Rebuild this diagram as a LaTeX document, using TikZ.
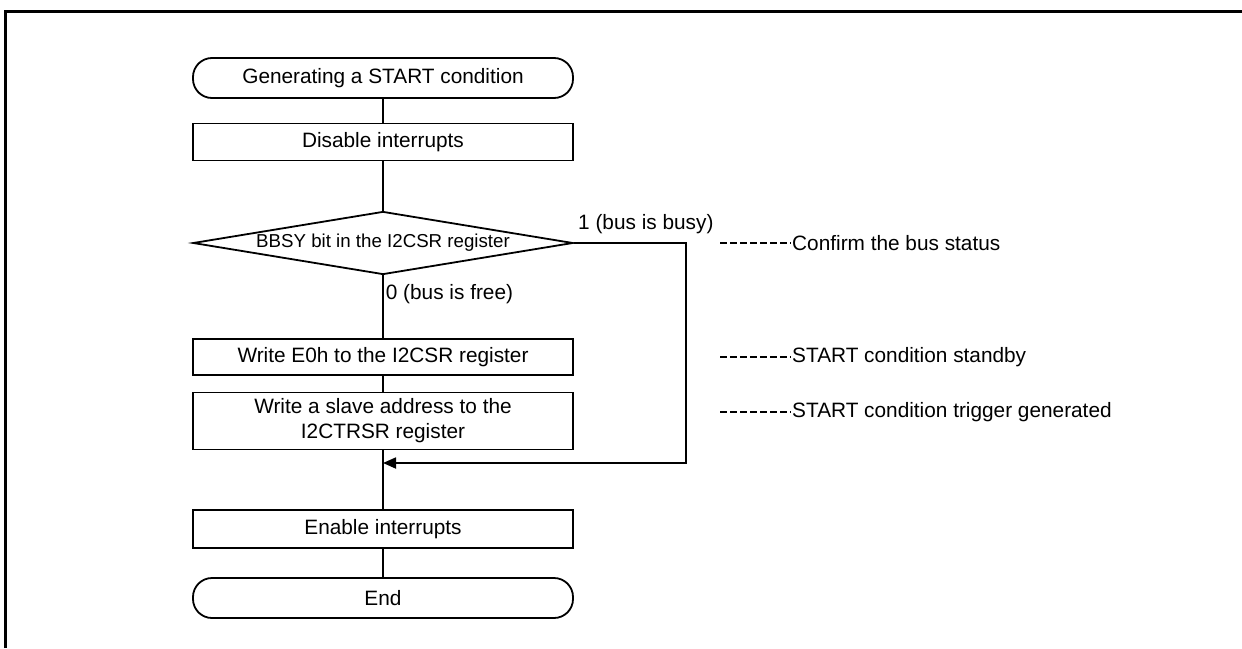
\documentclass[tikz,border=0pt]{standalone}
\usepackage{fontspec}
\setmainfont{Liberation Sans}
\usetikzlibrary{shapes.geometric,arrows.meta}
\begin{document}
\begin{tikzpicture}[x=1pt,y=-1pt,
  txt/.style={font=\fontsize{20.8}{25}\selectfont},
  proc/.style={draw,line width=1.8pt,minimum width=380pt,inner sep=0pt,txt,align=center},
  term/.style={proc,rounded corners=19pt,minimum height=40pt},
  dec/.style={draw,line width=1.8pt,shape=diamond,aspect=6,inner sep=0pt,minimum width=380pt,minimum height=63pt,font=\fontsize{18.7}{22}\selectfont},
  conn/.style={line width=1.8pt},
  note/.style={txt,anchor=west,inner sep=1pt},
  lead/.style={line width=2.4pt,dash pattern=on 7pt off 3pt}]
\useasboundingbox (0,0) rectangle (1242,648);
\draw[line width=3pt] (5,648) -- (5,11) -- (1242,11);
\node[term] (start) at (383,78) {Generating a START condition};
\node[proc,minimum height=37pt] (dis) at (383,142) {Disable interrupts};
\node[dec] (bbsy) at (383,243) {BBSY bit in the I2CSR register};
\node[proc,minimum height=36pt] (e0h) at (383,357) {Write E0h to the I2CSR register};
\node[proc,minimum height=57pt] (slave) at (383,421) {Write a slave address to the\\I2CTRSR register};
\node[proc,minimum height=38pt] (en) at (383,529) {Enable interrupts};
\node[term] (fin) at (383,598) {End};
\coordinate (join) at (383,463);
\coordinate (c1) at (686,243);
\coordinate (c2) at (686,463);
\draw[conn] (start) -- (dis);
\draw[conn] (dis) -- (bbsy);
\draw[conn] (bbsy.south) -- node[txt,anchor=west,pos=0.3,inner sep=2pt] {0 (bus is free)} (e0h.north);
\draw[conn] (e0h) -- (slave);
\draw[conn] (slave.south) -- (join) -- (en.north);
\draw[conn] (en) -- (fin);
\draw[conn,-{Triangle[length=13pt,width=11pt]}] (bbsy.east) -- (c1) -- (c2) -- (join);
\node[txt,anchor=south west,inner sep=2pt] (busy) at (576,236) {1 (bus is busy)};
\node[note] (n1) at (791,243) {Confirm the bus status};
\node[note] (n2) at (791,357) {START condition standby};
\node[note] (n3) at (791,412) {START condition trigger generated};
\coordinate (d1) at (720,243);
\coordinate (d2) at (720,357);
\coordinate (d3) at (720,412);
\draw[lead] (d1) -- (n1.west);
\draw[lead] (d2) -- (n2.west);
\draw[lead] (d3) -- (n3.west);
\end{tikzpicture}
\end{document}
